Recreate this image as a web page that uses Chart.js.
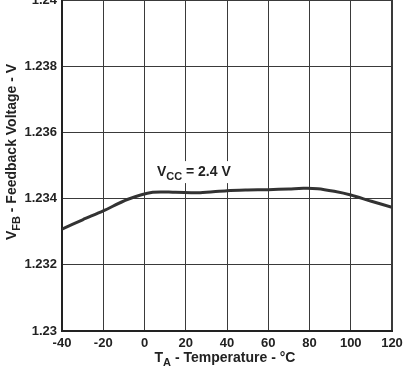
<!DOCTYPE html>
<html><head><meta charset="utf-8">
<script src="https://cdn.jsdelivr.net/npm/chart.js@4/dist/chart.umd.min.js"></script>
<style>html,body{margin:0;padding:0;background:#fff;overflow:hidden}#wrap{width:403px;height:369px}</style>
</head><body><div id="wrap"><canvas id="c" width="403" height="369"></canvas></div>
<script>
const temperatures = [-40, -30, -20, -8, 4, 15, 27, 40, 50, 60, 70, 77, 84, 92, 100, 110, 120];
const feedbackVoltage = [1.23308, 1.23336, 1.23363, 1.23398, 1.23419, 1.23419, 1.23418, 1.23424, 1.23426, 1.23427, 1.23429, 1.23431, 1.23430, 1.23422, 1.23411, 1.23392, 1.23374];
const xTicks = [-40, -20, 0, 20, 40, 60, 80, 100, 120];
const yTicks = [1.23, 1.232, 1.234, 1.236, 1.238, 1.24];
const seriesLabel = ['V', 'CC', ' = 2.4 V'];
const xTitle = ['T', 'A', ' - Temperature - \u00B0C'];
const yTitle = ['V', 'FB', ' - Feedback Voltage - V'];

const FONT = '"Liberation Sans", Arial, sans-serif';

function drawSub(ctx, parts, size, align) {
  ctx.font = 'bold ' + size + 'px ' + FONT;
  const w0 = ctx.measureText(parts[0]).width;
  ctx.font = 'bold ' + Math.round(size * 0.78) + 'px ' + FONT;
  const w1 = ctx.measureText(parts[1]).width;
  ctx.font = 'bold ' + size + 'px ' + FONT;
  const w2 = ctx.measureText(parts[2]).width;
  const total = w0 + w1 + w2;
  let x = align === 'center' ? -total / 2 : 0;
  ctx.textAlign = 'left';
  ctx.textBaseline = 'alphabetic';
  ctx.fillText(parts[0], x, 0); x += w0;
  ctx.font = 'bold ' + Math.round(size * 0.78) + 'px ' + FONT;
  ctx.fillText(parts[1], x, size * 0.28); x += w1;
  ctx.font = 'bold ' + size + 'px ' + FONT;
  ctx.fillText(parts[2], x, 0);
  return total;
}

const labelsPlugin = {
  id: 'labelsPlugin',
  afterDraw(chart) {
    const ctx = chart.ctx;
    const xs = chart.scales.x, ys = chart.scales.y;
    ctx.save();
    ctx.fillStyle = '#222';
    // x title
    ctx.save();
    ctx.translate((xs.left + xs.right) / 2 - 2, 362);
    drawSub(ctx, xTitle, 14, 'center');
    ctx.restore();
    // y title
    ctx.save();
    ctx.translate(16, 152);
    ctx.rotate(-Math.PI / 2);
    drawSub(ctx, yTitle, 14, 'center');
    ctx.restore();
    // series label with white box
    const lx = xs.getPixelForValue(6), ly = ys.getPixelForValue(1.23468);
    ctx.fillStyle = '#fff';
    ctx.fillRect(lx - 8, ly - 15, 96, 22);
    ctx.fillStyle = '#222';
    ctx.save();
    ctx.translate(lx, ly);
    drawSub(ctx, seriesLabel, 14, 'left');
    ctx.restore();
    ctx.restore();
  }
};

new Chart(document.getElementById('c'), {
  type: 'line',
  data: {
    datasets: [{
      data: temperatures.map((t, i) => ({x: t, y: feedbackVoltage[i]})),
      borderColor: '#333',
      borderWidth: 3,
      pointRadius: 0,
      tension: 0.3,
      fill: false
    }]
  },
  options: {
    responsive: false,
    animation: false,
    layout: {padding: {top: 0, right: 11, left: 0, bottom: 0}},
    plugins: {legend: {display: false}, tooltip: {enabled: false}},
    scales: {
      x: {
        type: 'linear', min: -40, max: 120,
        afterBuildTicks: s => { s.ticks = xTicks.map(v => ({value: v})); },
        afterFit: s => { s.height = 38; s.paddingLeft = 0; s.paddingRight = 0; },
        grid: {color: '#3a3a3a', lineWidth: c => (c.index === xTicks.length - 1 ? 2 : 1), drawTicks: false},
        border: {color: '#222', width: 2},
        ticks: {color: '#222', padding: 5, font: {family: FONT, size: 13, weight: 'bold'}, maxRotation: 0, autoSkip: false}
      },
      y: {
        type: 'linear', min: 1.23, max: 1.24,
        afterBuildTicks: s => { s.ticks = yTicks.map(v => ({value: v})); },
        afterFit: s => { s.width = 62; s.paddingTop = 0; s.paddingBottom = 0; },
        grid: {color: '#3a3a3a', lineWidth: c => (c.index === yTicks.length - 1 ? 2 : 1), drawTicks: false},
        border: {color: '#222', width: 2},
        ticks: {color: '#222', padding: 5, font: {family: FONT, size: 13, weight: 'bold'},
          callback: v => String(parseFloat(Number(v).toFixed(3)))}
      }
    }
  },
  plugins: [labelsPlugin]
});
</script>
</body></html>
